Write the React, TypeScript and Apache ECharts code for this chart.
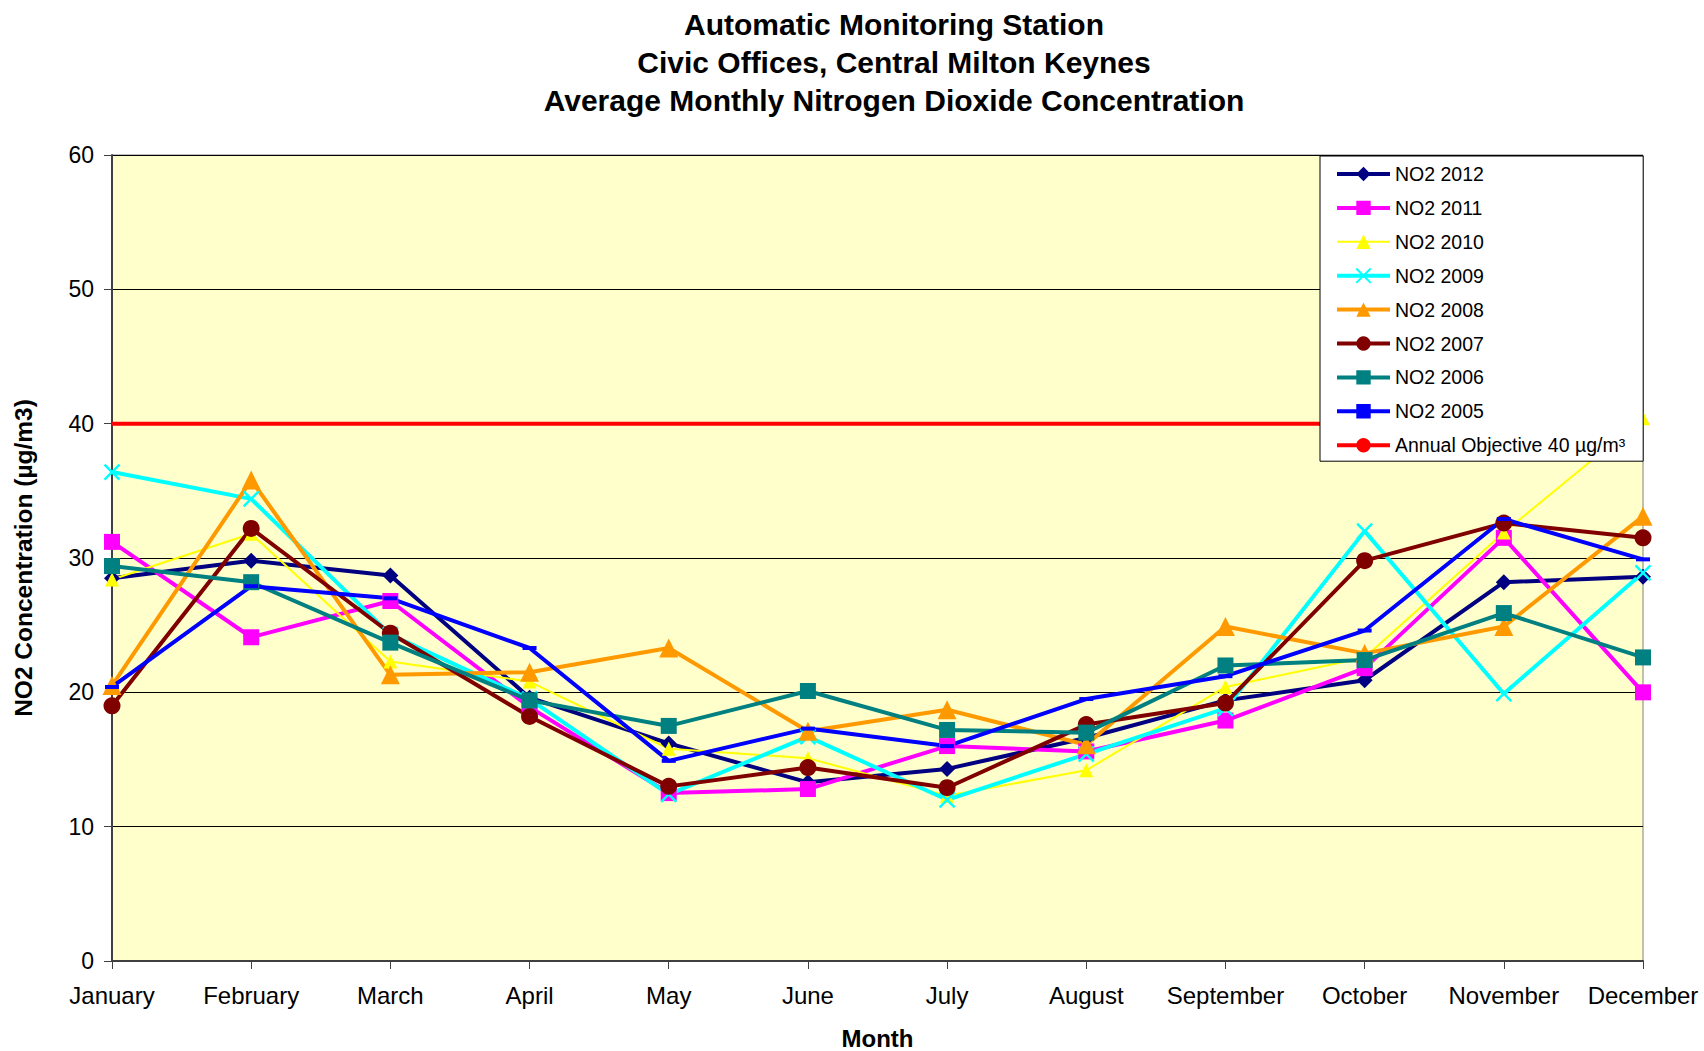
import React, { useEffect, useRef } from "react";
import * as echarts from "echarts";

const months = ["January", "February", "March", "April", "May", "June", "July", "August", "September", "October", "November", "December"];
const yTicks = [0, 10, 20, 30, 40, 50, 60];

const no2_2012 = [28.5, 29.8, 28.7, 19.6, 16.2, 13.3, 14.3, 16.6, 19.4, 20.9, 28.2, 28.6];
const no2_2011 = [31.2, 24.1, 26.8, 18.9, 12.5, 12.8, 16.0, 15.6, 17.9, 21.8, 31.5, 20.0];
const no2_2010 = [28.4, 31.8, 22.3, 20.8, 15.8, 15.1, 12.3, 14.2, 20.4, 22.6, 31.9, 40.4];
const no2_2009 = [36.4, 34.4, 24.3, 19.5, 12.4, 16.7, 12.0, 15.4, 18.8, 32.0, 19.9, 28.9];
const no2_2008 = [20.5, 35.8, 21.3, 21.5, 23.3, 17.1, 18.7, 16.1, 24.9, 22.9, 24.9, 33.1];
const no2_2007 = [19.0, 32.2, 24.4, 18.2, 13.0, 14.4, 12.9, 17.6, 19.2, 29.8, 32.6, 31.5];
const no2_2006 = [29.4, 28.2, 23.7, 19.4, 17.5, 20.1, 17.2, 17.0, 22.0, 22.4, 25.9, 22.6];
const no2_2005 = [20.4, 27.9, 27.0, 23.3, 14.9, 17.3, 16.0, 19.5, 21.2, 24.6, 32.9, 29.9];
const objective = [40, 40, 40, 40, 40, 40, 40, 40, 40, 40, 40, 40];

const titleLines = [
  "Automatic Monitoring Station",
  "Civic Offices, Central Milton Keynes",
  "Average Monthly Nitrogen Dioxide Concentration",
];

const FONT = "'Liberation Sans', Arial, sans-serif";

function lineSeries(name: string, data: number[], color: string, symbol: string, symbolSize: any, width: number, stroke = false) {
  return {
    name,
    type: "line",
    data,
    symbol,
    symbolSize,
    showSymbol: symbol !== "none",
    lineStyle: { color, width },
    itemStyle: stroke
      ? { color, borderColor: color, borderWidth: 2.5 }
      : { color, borderWidth: 0 },
    emphasis: { disabled: true },
  };
}

export default function App() {
  const ref = useRef<HTMLDivElement>(null);
  useEffect(() => {
    if (!ref.current) return;
    const chart = echarts.init(ref.current, null, { renderer: "svg" });
    const series = [
      lineSeries("NO2 2012", no2_2012, "#000080", "diamond", 16, 4),
      lineSeries("NO2 2011", no2_2011, "#FF00FF", "rect", 16, 4),
      lineSeries("NO2 2010", no2_2010, "#FFFF00", "triangle", 14, 2),
      lineSeries("NO2 2009", no2_2009, "#00FFFF", "path://M0,0L10,10M0,10L10,0", 15, 4, true),
      lineSeries("NO2 2008", no2_2008, "#FF9900", "triangle", 19, 4),
      lineSeries("NO2 2007", no2_2007, "#800000", "circle", 17, 4),
      lineSeries("NO2 2006", no2_2006, "#008080", "rect", 16, 4),
      lineSeries("NO2 2005", no2_2005, "#0000FF", "rect", [14, 4], 4),
      lineSeries("Annual Objective 40 µg/m³", objective, "#FF0000", "none", 0, 4),
    ];
    chart.setOption({
      animation: false,
      backgroundColor: "#FFFFFF",
      textStyle: { fontFamily: FONT },
      graphic: titleLines.map((t, i) => ({
        type: "text",
        x: 894,
        y: 24 + i * 38,
        style: {
          text: t,
          fill: "#000",
          font: `bold 30px ${FONT}`,
          textAlign: "center",
          textVerticalAlign: "middle",
        },
      })),
      grid: {
        left: 112,
        right: 61,
        top: 155,
        bottom: 90,
        outerBoundsMode: "none",
        containLabel: false,
        show: true,
        backgroundColor: "#FFFFCC",
        borderColor: "#808080",
        borderWidth: 1,
      },
      legend: {
        orient: "vertical",
        left: 1320,
        top: 156,
        padding: [8, 18, 6, 15],
        backgroundColor: "#FFFFFF",
        borderColor: "#000000",
        borderWidth: 1,
        itemWidth: 53,
        itemHeight: 18,
        itemGap: 13.9,
        textStyle: { fontFamily: FONT, fontSize: 19.5, color: "#000", lineHeight: 19 },
        data: series.map((s) => ({ name: s.name, lineStyle: { width: s.lineStyle.width } })),
      },
      xAxis: {
        type: "category",
        data: months,
        boundaryGap: false,
        name: "Month",
        nameLocation: "middle",
        nameGap: 65,
        nameTextStyle: { fontFamily: FONT, fontSize: 24, fontWeight: "bold", color: "#000" },
        axisLine: { lineStyle: { color: "#404040", width: 2 } },
        axisTick: { show: true, length: 8, interval: 0, lineStyle: { color: "#404040", width: 1 } },
        axisLabel: { fontFamily: FONT, fontSize: 24, color: "#000", margin: 22, interval: 0 },
        splitLine: { show: false },
      },
      yAxis: {
        type: "value",
        min: yTicks[0],
        max: yTicks[yTicks.length - 1],
        interval: 10,
        name: "NO2 Concentration (µg/m3)",
        nameLocation: "middle",
        nameRotate: 90,
        nameGap: 76,
        nameTextStyle: { fontFamily: FONT, fontSize: 24.5, fontWeight: "bold", color: "#000" },
        axisLine: { show: true, lineStyle: { color: "#404040", width: 2 } },
        axisTick: { show: true, length: 8, lineStyle: { color: "#404040", width: 1 } },
        axisLabel: { fontFamily: FONT, fontSize: 23, color: "#000", margin: 18 },
        splitLine: { show: true, lineStyle: { color: "#000000", width: 1 } },
      },
      series,
    });
    return () => chart.dispose();
  }, []);
  return <div ref={ref} style={{ position: "fixed", left: 0, top: 0, width: 1704, height: 1051 }} />;
}
